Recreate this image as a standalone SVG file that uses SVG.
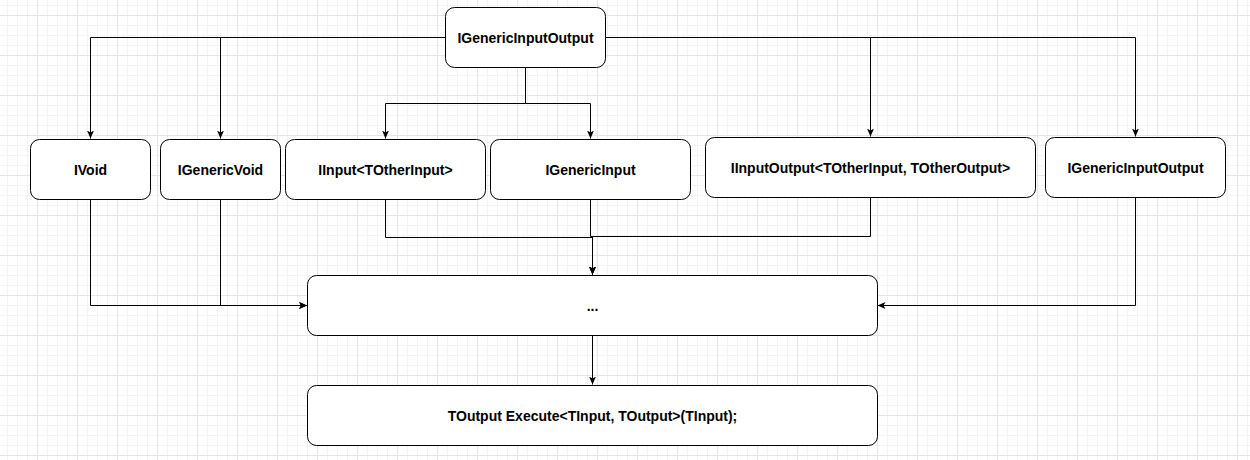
<svg xmlns="http://www.w3.org/2000/svg" width="1250" height="460" viewBox="0 0 1250 460">
<defs>
<pattern id="grid" x="37" y="15" width="40" height="40" patternUnits="userSpaceOnUse">
<path d="M10.5,0V40M20.5,0V40M30.5,0V40M0,10.5H40M0,20.5H40M0,30.5H40" stroke="#f3f3f3" stroke-width="1" fill="none"/>
<path d="M0.5,0V40M0,0.5H40" stroke="#e6e6e6" stroke-width="1" fill="none"/>
</pattern>
<marker id="arr" markerWidth="10" markerHeight="10" refX="8" refY="4" orient="auto" markerUnits="userSpaceOnUse">
<path d="M0,0.5 L8,4 L0,7.5 L2,4 Z" fill="#000"/>
</marker>
<style>
.n rect{fill:#fff;stroke:#000;stroke-width:1}
.n text{font-family:"Liberation Sans",Arial,sans-serif;font-size:14px;font-weight:bold;fill:#000;text-anchor:middle;dominant-baseline:central}
.e path{fill:none;stroke:#000;stroke-width:1;marker-end:url(#arr)}
</style>
</defs>
<rect width="1250" height="460" fill="#fff"/>
<rect width="1250" height="460" fill="url(#grid)"/>
<g id="connectors" class="e">
<path d="M445,37.5H90.5V138.5"/>
<path d="M445,37.5H220.5V138.5"/>
<path d="M525.5,67.5V103.5H385.5V138.5"/>
<path d="M525.5,67.5V103.5H590.5V138.5"/>
<path d="M605,37.5H870.5V136.5"/>
<path d="M605,37.5H1135.5V136.5"/>
<path d="M90.5,199.5V305.5H307"/>
<path d="M220.5,199.5V305.5H307"/>
<path d="M385.5,199.5V237.5H592.5V274.5"/>
<path d="M590.5,199.5V236.5H592.5V274.5"/>
<path d="M870.5,197.5V236.5H592.5V274.5"/>
<path d="M1135.5,197.5V305.5H877.5"/>
<path d="M592.5,335.5V384.5"/>
</g>
<g id="top" class="n"><rect x="445.5" y="7.5" width="160" height="60" rx="9"/><text x="525.5" y="37.5">IGenericInputOutput</text></g>
<g id="ivoid" class="n"><rect x="30.5" y="139.5" width="120" height="60" rx="9"/><text x="90.5" y="169.5">IVoid</text></g>
<g id="igenericvoid" class="n"><rect x="160.5" y="139.5" width="120" height="60" rx="9"/><text x="220.5" y="169.5">IGenericVoid</text></g>
<g id="iinput" class="n"><rect x="285.5" y="139.5" width="200" height="60" rx="9"/><text x="385.5" y="169.5">IInput&lt;TOtherInput&gt;</text></g>
<g id="igenericinput" class="n"><rect x="490.5" y="139.5" width="200" height="60" rx="9"/><text x="590.5" y="169.5">IGenericInput</text></g>
<g id="iinputoutput" class="n"><rect x="705.5" y="137.5" width="330" height="60" rx="9"/><text x="870.5" y="167.5">IInputOutput&lt;TOtherInput, TOtherOutput&gt;</text></g>
<g id="igenericinputoutput" class="n"><rect x="1045.5" y="137.5" width="180" height="60" rx="9"/><text x="1135.5" y="167.5">IGenericInputOutput</text></g>
<g id="dots" class="n"><rect x="307.5" y="275.5" width="570" height="60" rx="9"/><text x="592.5" y="305.5">...</text></g>
<g id="execute" class="n"><rect x="307.5" y="385.5" width="570" height="60" rx="9"/><text x="592.5" y="415.5">TOutput Execute&lt;TInput, TOutput&gt;(TInput);</text></g>
</svg>
